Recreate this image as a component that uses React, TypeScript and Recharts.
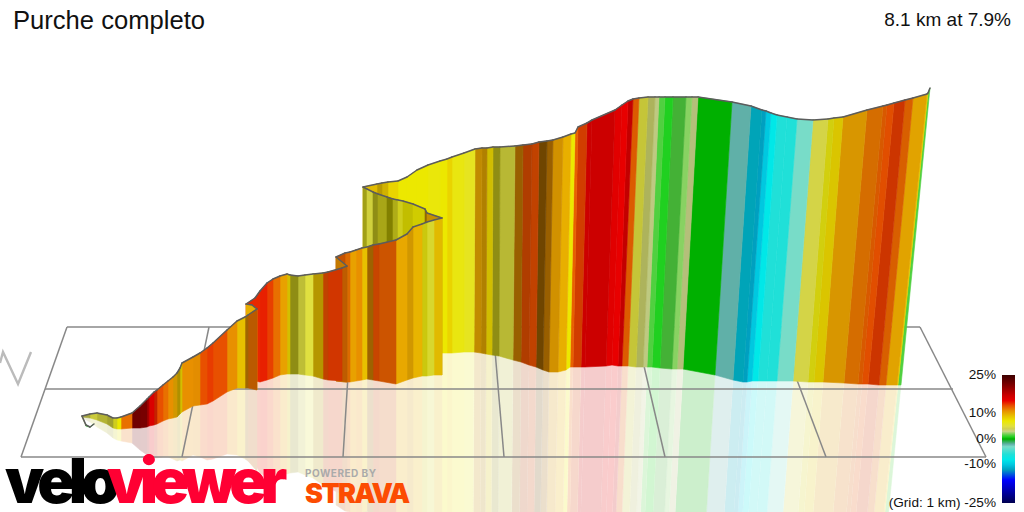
import { ScatterChart, Scatter, XAxis, YAxis } from 'recharts';

// colour scale, grade in % against colour of the legend bar
const scaleGrades = [25, 21, 17, 15, 13, 11, 9, 7, 5, 4, 3, 1.5, 0.8, 0, -2, -3, -6, -8, -10, -12, -16, -25];
const scaleColors = [
  '#3c0000', '#800000', '#cc0000', '#e80000', '#e85000', '#e89000', '#e8c000', '#ece800', '#e0e040', '#d0d050', '#c8d488',
  '#50d040', '#20d020', '#00b000', '#60b0a8', '#78dcc8', '#20e0d8', '#00e8e8', '#00c8e0', '#00a0c0', '#0000ff', '#000050',
];

// top edge of the wall, in travel order
const topX = [
  94, 90, 86, 82, 90, 97, 107, 113, 117, 121, 132, 140, 147, 149, 154, 157, 163, 168, 173, 177, 180, 182, 193, 200, 207, 213,
  227, 237, 245, 248, 257, 252, 246, 255, 260, 267, 273, 280, 287, 290, 298, 305, 313, 323, 328, 342, 347, 336, 345, 350, 356,
  362, 367, 373, 379, 396, 407, 413, 422, 427, 434, 442, 427, 425, 413, 403, 398, 393, 387, 378, 373, 367, 363, 377, 382, 388,
  398, 407, 417, 428, 440, 447, 452, 464, 475, 482, 487, 493, 500, 515, 523, 532, 539, 547, 553, 563, 571, 575, 578, 587, 592, 615, 622,
  628, 633, 639, 648, 655, 659, 665, 673, 686, 692, 698, 732, 751, 762, 766, 771, 777, 787, 797, 813, 828, 834, 843, 867, 883,
  887, 894, 905, 913, 927, 928, 930,
];
const topY = [
  424, 427, 425, 416, 414, 413, 415, 418, 418, 417, 413, 406, 399, 397, 392, 390, 385, 381, 377, 373, 368, 363, 357, 353, 348, 343,
  330, 321, 317, 315, 309, 305, 304, 298, 291, 283, 279, 276, 274, 275, 276, 275, 274, 273, 272, 268, 266, 257, 253, 252, 250,
  248, 247, 245, 244, 240, 234, 227, 224, 222, 220, 218, 213, 209, 204, 201, 200, 199, 197, 194, 192, 189, 187, 184, 183, 182,
  181, 177, 170, 165, 161, 159, 157, 153, 149, 148, 148, 147, 147, 146, 145, 144, 142, 141, 140, 137, 134, 133, 127, 123, 120, 110, 105,
  101, 99, 98, 97, 97, 97, 97, 97, 97, 97, 97, 102, 106, 110, 111, 113, 115, 117, 119, 120, 119, 118, 117, 110, 106,
  105, 103, 100, 98, 94, 93, 88,
];

// foot of the wall on the ground plane
const baseX = [
  94, 90, 86, 82, 90, 97, 107, 113, 117, 121, 132, 140, 147, 149, 154, 157, 163, 168, 173, 177, 180, 182, 193, 200, 207, 213,
  227, 237, 245, 248, 257, 252, 246, 255, 260, 267, 273, 280, 287, 290, 298, 305, 313, 323, 328, 342, 347, 336, 345, 350, 356,
  362, 367, 373, 379, 396, 407, 413, 422, 427, 434, 442, 427, 425, 413, 403, 398, 393, 387, 378, 373, 367, 363, 377, 382, 388,
  398, 407, 417, 428, 440, 447, 452, 464, 474, 481, 486, 492, 499, 513, 521, 529, 536, 543, 549, 558, 566, 570, 573, 581, 585, 606, 612,
  618, 622, 628, 636, 643, 647, 652, 660, 672, 677, 683, 715, 733, 743, 747, 752, 758, 767, 777, 793, 808, 814, 823, 844, 858,
  862, 868, 879, 886, 897, 898, 901,
];
const baseY = [
  424, 427, 426, 417, 418, 420, 424, 428, 429, 429, 428, 428, 427, 426, 425, 424, 421, 419, 418, 417, 414, 412, 406, 405, 404, 401,
  392, 388, 388, 388, 390, 385, 381, 381, 382, 380, 378, 375, 374, 374, 374, 375, 376, 379, 380, 381, 382, 381, 382, 382, 381,
  380, 379, 380, 381, 384, 380, 378, 376, 376, 375, 375, 362, 361, 360, 360, 360, 360, 360, 360, 360, 360, 360, 360, 359, 358,
  357, 356, 355, 354, 353, 353, 353, 352, 352, 353, 354, 355, 356, 360, 362, 365, 367, 370, 372, 372, 370, 367, 367, 367, 367, 366, 365,
  366, 366, 366, 367, 367, 367, 367, 368, 369, 369, 369, 375, 380, 382, 382, 381, 381, 381, 381, 381, 382, 382, 382, 383, 384,
  384, 384, 385, 385, 385, 385, 385,
];

// grade of the strip that starts at each station, and how dark its face is lit
const stripGrade = [
  1, 1, 3, 4, 5, 5, 5, 6, 7, 12, 22, 21.5, 19, 16, 14, 13, 12, 11, 10, 9, 8, 11, 11, 13, 13.5, 13,
  11, 9, 11, 12, 9.7, 9.7, 14, 14, 14.2, 13.4, 12, 10.3, 8, 6, 5, 5, 9, 13, 13.5, 12, 11, 12.5, 12, 10.3, 11,
  9, 11, 13, 12.5, 10, 10, 9.5, 6.5, 5.5, 9, 10, 10, 7, 7, 6, 6, 7, 6, 6, 5, 6, 9, 9, 8.7, 8,
  7, 7, 7, 6.7, 7, 8, 6.5, 6, 10, 10, 8, 6, 5, 11, 13, 13, 11, 11, 10.3, 9.7, 7, 12.5, 13.3, 17, 17, 15.5, 15,
  17.5, 12.5, 5, 3.5, 3, 1.5, 0.8, 1.5, 2.2, 3, 0, -2, -10, -12, -10, -8, -6, -6, -3, 4.5, 6.5, 8, 10.3, 11.8, 12.5,
  13, 13.5, 12.3, 10, 8, 1.5,
];
const stripShade = [
  1, 1, 0.8, 0.8, 0.9, 0.8, 0.72, 0.9, 1, 1, 1, 1, 1, 1, 0.85, 1, 1, 1, 0.9, 0.75, 0.9, 1, 0.98, 1, 1, 1,
  1, 1, 0.7, 0.8, 1, 1, 1, 1, 1, 1, 1, 1, 0.9, 0.62, 0.85, 1, 0.78, 0.83, 0.9, 0.82, 0.85, 0.85, 0.95, 1, 1,
  1, 0.68, 0.86, 0.88, 1, 0.9, 1, 0.87, 0.95, 0.97, 0.85, 0.62, 0.88, 0.82, 0.9, 0.76, 0.55, 0.73, 0.62, 0.93, 0.7, 0.97, 0.8, 0.9, 1,
  1, 1, 1, 1, 1, 1, 1, 1, 0.83, 0.76, 0.89, 0.62, 0.82, 0.66, 0.76, 0.83, 0.48, 0.66, 0.9, 1, 1, 1, 0.9, 1, 1, 1, 1,
  1, 0.95, 0.88, 0.85, 0.95, 1, 1, 0.85, 1, 0.9, 1, 1, 0.82, 1, 1, 1, 1, 1, 1, 0.98, 0.9, 0.93, 0.93, 0.92, 0.93,
  0.97, 0.88, 0.93, 0.97, 1, 1,
];

// ground grid
const gridBackX = [67, 209, 351, 493, 635, 777, 920];
const gridFrontX = [21, 182, 343, 504, 665, 826, 986];
const gridRowY = [327, 389, 457];
const gridRowLeftX = [67, 45, 21];
const gridRowRightX = [920, 953, 986];
const cornerX = [0, 3, 18, 31];
const cornerY = [363, 352, 384, 352];

// legend
const legendBarX = [1002, 1015];
const legendBarY = [375, 503];
const legendTicks = ['25%', '10%', '0%', '-10%', '(Grid: 1 km) -25%'];
const legendTickY = [379, 417, 443, 468, 507];

function hexToRgb(hex: string) {
  return [1, 3, 5].map((i) => parseInt(hex.slice(i, i + 2), 16));
}

function rgbFor(grade: number, shade: number) {
  let i = 0;
  while (i < scaleGrades.length - 2 && grade < scaleGrades[i + 1]) i++;
  const t = (scaleGrades[i] - grade) / (scaleGrades[i] - scaleGrades[i + 1]);
  const a = hexToRgb(scaleColors[i]);
  const b = hexToRgb(scaleColors[i + 1]);
  return a.map((v, k) => Math.min(255, Math.round((v + (b[k] - v) * t) * shade)));
}

// the strips run from station i to station i + 1
const strips = stripGrade.map((grade, i) => {
  const rgb = rgbFor(grade, stripShade[i]);
  return {
    colour: `rgb(${rgb.join(',')})`,
    // the reflection is the same colour washed out towards white
    pale: `rgb(${rgb.map((v) => Math.round(255 - (255 - v) * 0.2)).join(',')})`,
    wall: [
      { x: topX[i], y: topY[i] },
      { x: topX[i + 1], y: topY[i + 1] },
      { x: baseX[i + 1], y: baseY[i + 1] },
      { x: baseX[i], y: baseY[i] },
    ],
    mirror: [
      { x: baseX[i], y: baseY[i] },
      { x: baseX[i + 1], y: baseY[i + 1] },
      { x: 2 * baseX[i + 1] - topX[i + 1], y: 2 * baseY[i + 1] - topY[i + 1] },
      { x: 2 * baseX[i] - topX[i], y: 2 * baseY[i] - topY[i] },
    ],
  };
});

const farFirst = [...strips].reverse();

const gridLines = [
  ...gridBackX.map((x, i) => [
    { x, y: gridRowY[0] },
    { x: gridFrontX[i], y: gridRowY[2] },
  ]),
  ...gridRowY.map((y, i) => [
    { x: gridRowLeftX[i], y },
    { x: gridRowRightX[i], y },
  ]),
];
const cornerLine = cornerX.map((x, i) => ({ x, y: cornerY[i] }));
const legendBar = [
  { x: legendBarX[0], y: legendBarY[0] },
  { x: legendBarX[1], y: legendBarY[0] },
  { x: legendBarX[1], y: legendBarY[1] },
  { x: legendBarX[0], y: legendBarY[1] },
];

const noDot = () => null;

// fills the strip and strokes its top edge, so that nearer walls hide both
function WallStrip({ points, stroke }: any) {
  const corners = points.map((p: any) => `${p.x},${p.y}`).join(' ');
  return (
    <g>
      <polygon points={corners} fill={stroke} stroke={stroke} strokeWidth={0.6} />
      <line
        x1={points[0].x}
        y1={points[0].y}
        x2={points[1].x}
        y2={points[1].y}
        stroke="#5c5c5c"
        strokeWidth={1.5}
        strokeLinecap="round"
      />
    </g>
  );
}

const labelFont = '"Liberation Sans", Arial, sans-serif';
const logoFont = 'Inter, sans-serif';

export default function App() {
  return (
    <div style={{ position: 'absolute', left: 0, top: 0, width: 1024, height: 512, background: '#fff' }}>
      <ScatterChart width={1024} height={512} margin={{ top: 0, right: 0, bottom: 0, left: 0 }}>
        <defs>
          <linearGradient id="gradeScale" x1="0" y1="0" x2="0" y2="1">
            {scaleGrades.map((g, i) => (
              <stop key={g} offset={`${(25 - g) * 2}%`} stopColor={scaleColors[i]} />
            ))}
          </linearGradient>
        </defs>
        <XAxis type="number" dataKey="x" domain={[0, 1024]} allowDataOverflow hide />
        <YAxis type="number" dataKey="y" domain={[0, 512]} allowDataOverflow reversed hide />

        {farFirst.map((s, i) => (
          <Scatter
            key={`mirror-${i}`}
            data={s.mirror}
            shape={noDot}
            line={{ fill: s.pale, stroke: s.pale, strokeWidth: 0.5 }}
            isAnimationActive={false}
          />
        ))}
        {gridLines.map((l, i) => (
          <Scatter
            key={`grid-${i}`}
            data={l}
            shape={noDot}
            line={{ stroke: '#888888', strokeWidth: 1.5, fill: 'none' }}
            isAnimationActive={false}
          />
        ))}
        <Scatter
          data={cornerLine}
          shape={noDot}
          line={{ stroke: '#bbbbbb', strokeWidth: 2.4, fill: 'none' }}
          isAnimationActive={false}
        />
        {farFirst.map((s, i) => (
          <Scatter
            key={`wall-${i}`}
            data={s.wall}
            shape={noDot}
            fill={s.colour}
            line={WallStrip}
            isAnimationActive={false}
          />
        ))}
        <Scatter
          data={legendBar}
          shape={noDot}
          line={{ fill: 'url(#gradeScale)', stroke: 'none' }}
          isAnimationActive={false}
        />
      </ScatterChart>

      {/* titles and logo sit over the scatter layer, so they get their own svg */}
      <svg width={1024} height={512} style={{ position: 'absolute', left: 0, top: 0 }}>
        <text x={13} y={29} fontFamily={labelFont} fontSize={25.6} fill="#111">
          Purche completo
        </text>
        <text x={1011} y={26} textAnchor="end" fontFamily={labelFont} fontSize={19} fill="#111">
          8.1 km at 7.9%
        </text>
        {legendTicks.map((t, i) => (
          <text key={t} x={996} y={legendTickY[i]} textAnchor="end" fontFamily={labelFont} fontSize={13.6} fill="#111">
            {t}
          </text>
        ))}
        <text x={5} y={503} fontFamily={logoFont} fontWeight={900} fontSize={62} letterSpacing={-6} fill="#000">
          velo
        </text>
        <text x={107} y={503} fontFamily={logoFont} fontWeight={900} fontSize={62} letterSpacing={-6.5} fill="#ff0033">
          viewer
        </text>
        <text x={305} y={477} fontFamily={logoFont} fontWeight={700} fontSize={10} letterSpacing={0.5} fill="#aaaaaa">
          POWERED BY
        </text>
        <text x={305} y={503} fontFamily={logoFont} fontWeight={900} fontSize={27} letterSpacing={-1.8} fill="#fc4c02">
          STRAVA
        </text>
      </svg>
    </div>
  );
}
